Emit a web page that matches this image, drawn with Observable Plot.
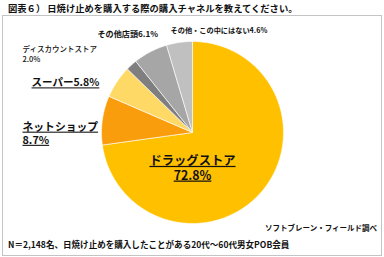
<!DOCTYPE html>
<html><head><meta charset="utf-8">
<script src="https://cdn.jsdelivr.net/npm/d3@7"></script>
<script src="https://cdn.jsdelivr.net/npm/@observablehq/plot@0.6"></script>
<style>
body{margin:0;background:#fff;font-family:"Noto Sans CJK JP",sans-serif;color:#111}
#wrap{position:relative;width:384px;height:257px;overflow:hidden;background:#fff}
#frame{position:absolute;left:2px;top:15px;width:380px;height:241px;border:1px solid #c4c4c4;box-sizing:border-box}
#title{position:absolute;left:8px;top:2px;font-size:9.3px;font-weight:bold;white-space:pre;line-height:12px}
#source{position:absolute;right:7px;top:223px;font-size:7.5px;font-weight:bold;white-space:nowrap;line-height:10px}
#note{position:absolute;left:8px;top:239px;font-size:8.55px;font-weight:bold;white-space:nowrap;line-height:11px}
#chart{position:absolute;left:0;top:0}
</style></head>
<body>
<div id="wrap">
<div id="frame"></div>
<div id="title">図表６） 日焼け止めを購入する際の購入チャネルを教えてください。</div>
<div id="chart"></div>
<div id="source">ソフトブレーン・フィールド調べ</div>
<div id="note">N＝2,148名、日焼け止めを購入したことがある20代～60代男女POB会員</div>
</div>
<script>
const categories = ["ドラッグストア","ネットショップ","スーパー","ディスカウントストア","その他店頭","その他・この中にはない"];
const values = [72.8, 8.7, 5.8, 2.0, 6.1, 4.6];
const colors = ["#FFC000","#F99D0C","#FFD966","#7F7F7F","#A6A6A6","#C0C0C0"];

// layout
const W = 384, H = 257, CX = 192, CY = 132, R = 91;

const arcs = d3.pie().sort(null).value(d => d)(values);
const pts = [];
arcs.forEach((a, i) => {
  const key = categories[i];
  pts.push({key, color: colors[i], x: CX, y: CY});
  const n = Math.max(2, Math.ceil((a.endAngle - a.startAngle) / (Math.PI / 180)));
  for (let k = 0; k <= n; k++) {
    const t = a.startAngle + (a.endAngle - a.startAngle) * k / n;
    pts.push({key, color: colors[i], x: CX + R * Math.sin(t), y: CY - R * Math.cos(t)});
  }
  pts.push({key, color: colors[i], x: CX, y: CY});
});

const fmt = v => v.toFixed(1) + "%";
const labels = [
  {text: categories[0] + "\n" + fmt(values[0]), x: CX, y: 167, size: 12.3, anchor: "middle", weight: "bold", lh: 1.19, u: true},
  {text: categories[1] + "\n" + fmt(values[1]), x: 22, y: 132.5, size: 10.8, anchor: "start", weight: "bold", lh: 1.22, u: true},
  {text: categories[2] + fmt(values[2]), x: 31, y: 82.5, size: 10.5, anchor: "start", weight: "bold", lh: 1, u: true},
  {text: categories[3] + "\n" + fmt(values[3]), x: 22, y: 53, size: 7.5, anchor: "start", weight: "500", lh: 1.4, u: false},
  {text: categories[4] + fmt(values[4]), x: 97, y: 33.5, size: 8.1, anchor: "start", weight: "bold", lh: 1, u: false},
  {text: categories[5] + fmt(values[5]), x: 170, y: 30.5, size: 7.2, anchor: "start", weight: "bold", lh: 1, u: false}
];

const chart = Plot.plot({
  width: W, height: H,
  margin: 0,
  x: {domain: [0, W], range: [0, W], axis: null},
  y: {domain: [0, H], range: [0, H], axis: null},
  color: {type: "identity"},
  style: {background: "transparent", fontFamily: "'Noto Sans CJK JP', sans-serif"},
  marks: [
    Plot.line(pts, {x: "x", y: "y", z: "key", fill: "color", stroke: "#ffffff", strokeWidth: 0.6, strokeLinejoin: "round"}),
    ...labels.map(l => Plot.text([l], {
      x: "x", y: "y", text: "text", fontSize: l.size, fontWeight: l.weight,
      textAnchor: l.anchor, lineHeight: l.lh, lineAnchor: "middle", fill: "#111"
    }))
  ]
});
document.getElementById("chart").appendChild(chart);
const under = new Set(labels.filter(l => l.u).map(l => l.text.replace(/\n/g, "")));
d3.select(chart).selectAll("text").each(function() {
  if (under.has(this.textContent.replace(/\n/g, ""))) this.setAttribute("text-decoration", "underline");
});
</script>
</body></html>
